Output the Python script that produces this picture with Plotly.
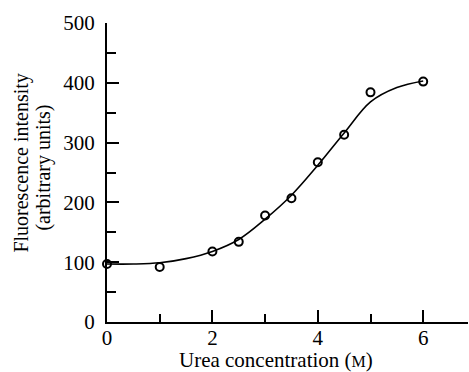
import plotly.graph_objects as go

# measured points
urea_pts = [0, 1, 2, 2.5, 3, 3.5, 4, 4.5, 5, 6]
fluor_pts = [97, 92, 118, 134, 178, 207, 267, 313, 384, 402]

# fitted curve
urea_curve = [0, 0.5, 1, 1.5, 2, 2.5, 3, 3.5, 4, 4.5, 5, 5.5, 6]
fluor_curve = [97, 97, 99, 106, 118, 138, 172, 212, 262, 316, 368, 392, 403]

x_ticks = [0, 2, 4, 6]
y_ticks = [0, 100, 200, 300, 400, 500]

FONT = "Times New Roman, Liberation Serif, serif"
tickfont = dict(family=FONT, size=21, color="black")
titlefont = dict(family=FONT, size=21, color="black")
ytitlefont = dict(family=FONT, size=20, color="black")

fig = go.Figure()
fig.add_trace(go.Scatter(x=urea_curve, y=fluor_curve, mode="lines",
                         line=dict(color="black", width=1.6, shape="spline", smoothing=1.0),
                         cliponaxis=False, hoverinfo="skip"))
fig.add_trace(go.Scatter(x=urea_pts, y=fluor_pts, mode="markers",
                         marker=dict(symbol="circle-open", size=8, color="black",
                                     line=dict(color="black", width=2)),
                         cliponaxis=False))

fig.update_layout(
    width=469, height=372,
    margin=dict(l=107, r=1, t=23, b=50),
    paper_bgcolor="white", plot_bgcolor="white",
    showlegend=False,
    font=dict(family=FONT, size=21, color="black"),
    xaxis=dict(range=[0, 6.85], tickvals=x_ticks, ticks="inside", ticklen=12,
               tickwidth=2, tickcolor="black", showline=True, linecolor="black",
               linewidth=2, showgrid=False, zeroline=False, tickfont=tickfont,
               minor=dict(tickvals=[1, 3, 5], ticks="inside", ticklen=8, tickwidth=2,
                          tickcolor="black", showgrid=False),
               ticklabelstandoff=-4),
    yaxis=dict(range=[0, 500], tickvals=y_ticks, ticks="inside", ticklen=12,
               tickwidth=2, tickcolor="black", showline=True, linecolor="black",
               linewidth=2, showgrid=False, zeroline=False, tickfont=tickfont,
               minor=dict(tickvals=[50, 150, 250, 350, 450], ticks="inside", ticklen=9,
                          tickwidth=2, tickcolor="black", showgrid=False),
               ticklabelstandoff=6),
    annotations=[
        dict(text="Urea concentration (<span style='font-size:16px'>M</span>)",
             xref="paper", yref="paper", x=0.468, y=-0.127,
             xanchor="center", yanchor="middle", showarrow=False, font=titlefont),
        dict(text="Fluorescence intensity",
             xref="paper", yref="paper", x=-0.238, y=0.53,
             xanchor="center", yanchor="middle", textangle=-90,
             showarrow=False, font=ytitlefont),
        dict(text="(arbitrary units)",
             xref="paper", yref="paper", x=-0.176, y=0.518,
             xanchor="center", yanchor="middle", textangle=-90,
             showarrow=False, font=ytitlefont),
    ],
)

fig.write_html("out.html")
